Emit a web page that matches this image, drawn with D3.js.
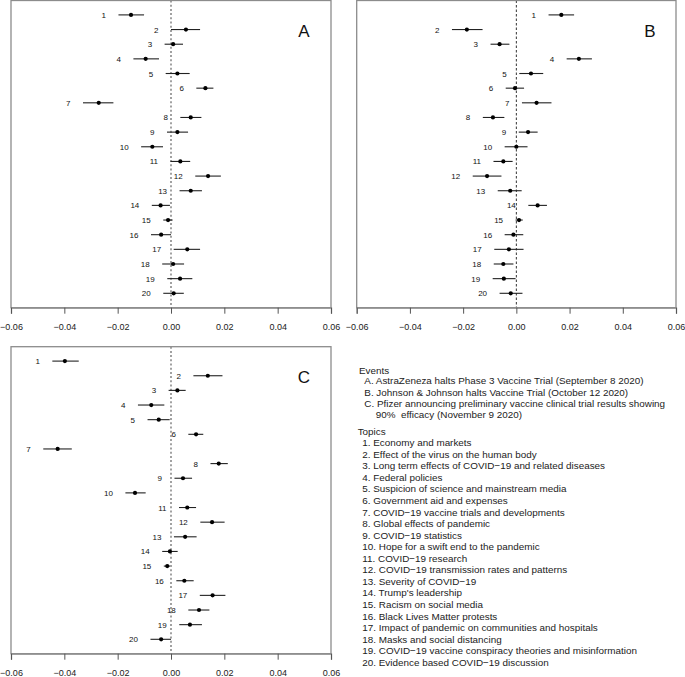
<!DOCTYPE html>
<html>
<head>
<meta charset="utf-8">
<script src="https://cdn.jsdelivr.net/npm/d3@7"></script>
<style>
  html, body { margin: 0; padding: 0; background: #fff; }
  svg { display: block; font-family: "Liberation Sans", Arial, Helvetica, sans-serif; }
  .pre { white-space: pre; }
</style>
</head>
<body>
<svg id="chart" width="685" height="677"></svg>
<script>
// ---- data ----
const topicIds = d3.range(1, 21);
const xTicks = [-0.06, -0.04, -0.02, 0.00, 0.02, 0.04, 0.06];

const estA = [-0.0150, 0.0056, 0.0008, -0.0095, 0.0024, 0.0129, -0.0271, 0.0074, 0.0024, -0.0070,
              0.0035, 0.0139, 0.0074, -0.0039, -0.0011, -0.0037, 0.0061, 0.0008, 0.0034, 0.0010];
const loA  = [-0.0197, 0.0000, -0.0024, -0.0141, -0.0020, 0.0095, -0.0330, 0.0035, -0.0015, -0.0112,
              -0.0002, 0.0091, 0.0032, -0.0072, -0.0029, -0.0075, 0.0010, -0.0033, -0.0014, -0.0029];
const hiA  = [-0.0101, 0.0109, 0.0045, -0.0045, 0.0070, 0.0159, -0.0216, 0.0114, 0.0064, -0.0030,
              0.0072, 0.0187, 0.0116, -0.0004, 0.0006, 0.0000, 0.0109, 0.0049, 0.0080, 0.0048];

const estB = [0.0169, -0.0186, -0.0063, 0.0235, 0.0055, -0.0005, 0.0076, -0.0088, 0.0044, 0.0000,
              -0.0049, -0.0110, -0.0023, 0.0080, 0.0010, -0.0011, -0.0028, -0.0049, -0.0047, -0.0021];
const loB  = [0.0121, -0.0242, -0.0097, 0.0189, 0.0011, -0.0040, 0.0021, -0.0126, 0.0009, -0.0044,
              -0.0086, -0.0164, -0.0070, 0.0045, -0.0003, -0.0044, -0.0083, -0.0085, -0.0089, -0.0063];
const hiB  = [0.0217, -0.0127, -0.0026, 0.0284, 0.0101, 0.0029, 0.0132, -0.0045, 0.0080, 0.0042,
              -0.0014, -0.0056, 0.0020, 0.0115, 0.0024, 0.0026, 0.0027, -0.0011, -0.0003, 0.0023];

const estC = [-0.0398, 0.0138, 0.0024, -0.0074, -0.0046, 0.0094, -0.0425, 0.0179, 0.0045, -0.0135,
              0.0061, 0.0154, 0.0053, -0.0004, -0.0014, 0.0050, 0.0156, 0.0105, 0.0071, -0.0037];
const loC  = [-0.0445, 0.0084, -0.0009, -0.0124, -0.0088, 0.0065, -0.0479, 0.0148, 0.0013, -0.0171,
              0.0030, 0.0110, 0.0011, -0.0033, -0.0027, 0.0020, 0.0108, 0.0065, 0.0031, -0.0077];
const hiC  = [-0.0346, 0.0193, 0.0055, -0.0025, -0.0005, 0.0121, -0.0372, 0.0213, 0.0079, -0.0095,
              0.0094, 0.0201, 0.0096, 0.0025, -0.0004, 0.0085, 0.0204, 0.0144, 0.0116, 0.0000];

const eventsTitle = "Events";
const eventLines = [
  "A. AstraZeneza halts Phase 3 Vaccine Trial (September 8 2020)",
  "B. Johnson & Johnson halts Vaccine Trial (October 12 2020)",
  "C. Pfizer announcing preliminary vaccine clinical trial results showing",
  "90%  efficacy (November 9 2020)"
];
const topicsTitle = "Topics";
const topics = [
  "Economy and markets",
  "Effect of the virus on the human body",
  "Long term effects of COVID\u221219 and related diseases",
  "Federal policies",
  "Suspicion of science and mainstream media",
  "Government aid and expenses",
  "COVID\u221219 vaccine trials and developments",
  "Global effects of pandemic",
  "COVID\u221219 statistics",
  "Hope for a swift end to the pandemic",
  "COVID\u221219 research",
  "COVID\u221219 transmission rates and patterns",
  "Severity of COVID\u221219",
  "Trump's leadership",
  "Racism on social media",
  "Black Lives Matter protests",
  "Impact of pandemic on communities and hospitals",
  "Masks and social distancing",
  "COVID\u221219 vaccine conspiracy theories and misinformation",
  "Evidence based COVID\u221219 discussion"
];

// ---- drawing ----
const svg = d3.select("#chart");

const panels = [
  { name: "A", est: estA, lo: loA, hi: hiA, left: 11, right: 331, top: 0.5, bottom: 307.7,
    zeroColor: "#8a8a8a", zeroWidth: 1.6, zeroDash: "2,2.2", letterX: 304, letterY: 31 },
  { name: "B", est: estB, lo: loB, hi: hiB, left: 356.7, right: 676, top: 0.5, bottom: 307.7,
    zeroColor: "#333", zeroWidth: 1, zeroDash: "2.5,2", letterX: 650, letterY: 31 },
  { name: "C", est: estC, lo: loC, hi: hiC, left: 11, right: 331, top: 346.7, bottom: 653.7,
    zeroColor: "#8a8a8a", zeroWidth: 1.6, zeroDash: "2,2.2", letterX: 304, letterY: 377 }
];

panels.forEach(p => {
  const x = d3.scaleLinear().domain([-0.06, 0.06]).range([p.left, p.right]);
  const y = d3.scaleLinear().domain([1, 20]).range([p.top + 14.4, p.bottom - 14.4]);
  const g = svg.append("g");

  // zero reference line
  g.append("line")
    .attr("x1", x(0)).attr("x2", x(0))
    .attr("y1", p.top).attr("y2", p.bottom)
    .attr("stroke", p.zeroColor).attr("stroke-width", p.zeroWidth)
    .attr("stroke-dasharray", p.zeroDash);

  // box
  g.append("rect")
    .attr("x", p.left).attr("y", p.top)
    .attr("width", p.right - p.left).attr("height", p.bottom - p.top)
    .attr("fill", "none").attr("stroke", "#8c8c8c").attr("stroke-width", 1.3);

  // axis
  const axis = d3.axisBottom(x).tickValues(xTicks)
    .tickFormat(d3.format(".2f")).tickSize(6).tickPadding(10);
  const ag = g.append("g").attr("transform", `translate(0,${p.bottom})`).call(axis);
  ag.select(".domain").attr("stroke", "#8c8c8c").attr("stroke-width", 1.3);
  ag.selectAll(".tick line").attr("stroke", "#555").attr("stroke-width", 1);
  ag.selectAll(".tick text").attr("fill", "#222").attr("font-size", 9)
    .attr("font-family", "Liberation Sans, Arial, sans-serif");

  // rows
  const rows = topicIds.map((id, i) => ({ id, est: p.est[i], lo: p.lo[i], hi: p.hi[i] }));
  g.selectAll(".ci").data(rows).join("line")
    .attr("x1", d => x(d.lo)).attr("x2", d => x(d.hi))
    .attr("y1", d => y(d.id)).attr("y2", d => y(d.id))
    .attr("stroke", "#222").attr("stroke-width", 1.1);
  g.selectAll(".pt").data(rows).join("circle")
    .attr("cx", d => x(d.est)).attr("cy", d => y(d.id)).attr("r", 2.1)
    .attr("fill", "#000");
  g.selectAll(".lab").data(rows).join("text")
    .attr("x", d => x(d.lo) - 12.5).attr("y", d => y(d.id) + 0.5)
    .attr("text-anchor", "end").attr("dominant-baseline", "central")
    .attr("font-size", 8).attr("fill", "#111")
    .text(d => d.id);

  // panel letter
  g.append("text")
    .attr("x", p.letterX).attr("y", p.letterY)
    .attr("text-anchor", "middle").attr("dominant-baseline", "central")
    .attr("font-size", 17).attr("fill", "#111")
    .text(p.name);
});

// ---- legend text ----
const lg = svg.append("g").attr("font-size", 9.9).attr("fill", "#222");
lg.append("text").attr("x", 359).attr("y", 370).attr("dominant-baseline", "central").text(eventsTitle);
const evX = [364.3, 364.3, 364.3, 375.7];
const evY = [380.7, 392, 403.3, 414.6];
eventLines.forEach((t, i) => {
  lg.append("text").attr("class", "pre").attr("x", evX[i]).attr("y", evY[i])
    .attr("dominant-baseline", "central").text(t);
});
lg.append("text").attr("x", 357.7).attr("y", 431).attr("dominant-baseline", "central").text(topicsTitle);
const ty = d3.scaleLinear().domain([1, 20]).range([442.7, 662.3]);
topics.forEach((t, i) => {
  lg.append("text").attr("x", 362.3).attr("y", ty(i + 1)).attr("dominant-baseline", "central")
    .text(`${i + 1}. ${t}`);
});
</script>
</body>
</html>
